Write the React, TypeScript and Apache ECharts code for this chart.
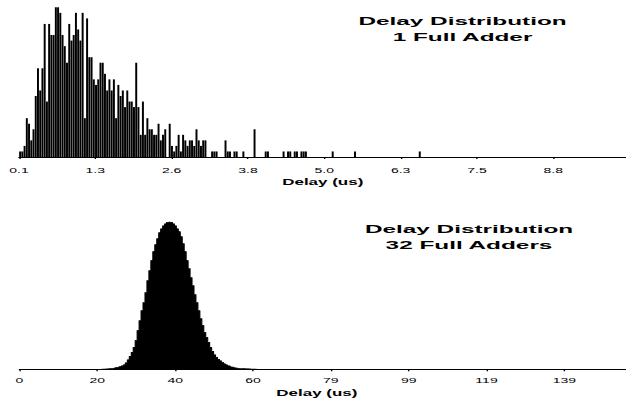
import React, { useEffect, useRef } from "react";
import * as echarts from "echarts";

// The reference figure is horizontally stretched; we draw natively and stretch the SVG.
const STRETCH = 1.75;
const PAGE_W = 626;
const PAGE_H = 400;
const NATIVE_W = PAGE_W / STRETCH;
const FONT = '"Liberation Sans", Arial, Helvetica, sans-serif';

// ---- Top histogram: 1 Full Adder ----
const topBinStart = 0.1;
const topBinWidth = 0.0362;
const topCounts = [
  1, 1, 2, 7, 6, 3, 5, 11, 16, 12,
  16, 24, 10, 24, 22, 22, 27, 27, 26, 22,
  20, 17, 24, 21, 22, 26, 23, 21, 26, 7,
  25, 18, 18, 14, 13, 14, 17, 17, 15, 12,
  14, 12, 14, 7, 13, 11, 12, 9, 12, 10,
  10, 9, 17, 9, 4, 10, 4, 7, 5, 5,
  4, 4, 6, 3, 4, 5, 0, 6, 2, 1,
  2, 4, 1, 4, 3, 2, 3, 3, 2, 5,
  3, 2, 3, 3, 0, 0, 1, 1, 1, 0,
  0, 0, 3, 1, 1, 0, 1, 1, 0, 0,
  1, 0, 0, 0, 0, 5, 0, 0, 0, 0,
  1, 1, 0, 0, 0, 0, 0, 0, 1, 0,
  1, 1, 0, 1, 1, 0, 1, 1, 1, 0,
  0, 0, 0, 0, 0, 0, 0, 0, 0, 0,
  1, 0, 0, 0, 0, 0, 0, 0, 0, 0,
  1, 0, 0, 0, 0, 0, 0, 0, 0, 0,
  0, 0, 0, 0, 0, 0, 0, 0, 0, 0,
  0, 0, 0, 0, 0, 0, 0, 0, 0, 1,
];
const topAxisMin = 0.1;
const topAxisMax = 9.95; // visible end of the (cropped) axis
const topYMax = 27;
const topTickValues = [0.1, 1.3375, 2.575, 3.8125, 5.05, 6.2875, 7.525, 8.7625];
const topTickLabels = ["0.1", "1.3", "2.6", "3.8", "5.0", "6.3", "7.5", "8.8"];
const topTitle = "Delay Distribution\n1 Full Adder";

// ---- Bottom histogram: 32 Full Adders ----
const bottomBinStart = 20;
const bottomBinWidth = 0.5;
const bottomCounts = [
  1, 1, 2, 3, 4, 5, 7, 9, 12, 17,
  22, 27, 35, 45, 65, 95, 130, 170, 220, 290,
  390, 490, 590, 670, 770, 890, 990, 1090, 1180, 1250,
  1310, 1370, 1410, 1440, 1460, 1475, 1480, 1475, 1460, 1440,
  1410, 1380, 1330, 1260, 1180, 1090, 1010, 920, 840, 750,
  670, 590, 510, 440, 370, 320, 270, 220, 180, 145,
  120, 100, 85, 70, 55, 45, 36, 30, 23, 18,
  14, 11, 9, 8, 7, 6, 5, 4, 3, 2,
  2, 1, 1, 1,
];
const bottomAxisMin = 0;
const bottomAxisMax = 154.8; // visible end of the (cropped) axis
const bottomYMax = 1480;
const bottomTickValues = [0, 19.85, 39.7, 59.55, 79.4, 99.25, 119.1, 138.95];
const bottomTickLabels = ["0", "20", "40", "60", "79", "99", "119", "139"];
const bottomTitle = "Delay Distribution\n32 Full Adders";

const xName = "Delay (us)";

function labelFor(values: number[], labels: string[]) {
  return (v: number) => {
    for (let k = 0; k < values.length; k++) {
      if (Math.abs(values[k] - v) < 1e-6) return labels[k];
    }
    return "";
  };
}

function xAxisCfg(
  gridIndex: number,
  min: number,
  max: number,
  ticks: number[],
  labels: string[],
  labelMargin: number,
  nameGap: number,
  namePadding: number[]
) {
  return {
    gridIndex,
    type: "value",
    min,
    max,
    axisLine: { show: true, onZero: false, lineStyle: { color: "#000", width: 1 } },
    axisTick: { show: true, customValues: ticks, length: 2, lineStyle: { color: "#000", width: 0.8 } },
    axisLabel: {
      show: true,
      customValues: ticks,
      formatter: labelFor(ticks, labels),
      fontSize: 8,
      color: "#000",
      fontFamily: FONT,
      margin: labelMargin,
    },
    splitLine: { show: false },
    name: xName,
    nameLocation: "middle",
    nameGap,
    nameTextStyle: {
      fontWeight: "bold",
      fontSize: 9.7,
      color: "#000",
      fontFamily: FONT,
      padding: namePadding,
    },
  };
}

export default function App() {
  const ref = useRef<HTMLDivElement>(null);

  useEffect(() => {
    if (!ref.current) return;
    const chart = echarts.init(ref.current, undefined, { renderer: "svg" });

    const topData = topCounts.map((c, i) => [topBinStart + (i + 0.5) * topBinWidth, c]);
    const bottomData = bottomCounts.map((c, i) => [bottomBinStart + (i + 0.5) * bottomBinWidth, c]);

    chart.setOption({
      animation: false,
      backgroundColor: "#fff",
      grid: [
        { left: 19 / STRETCH, top: 7.3, right: 0, height: 149.7, containLabel: false },
        { left: 19.5 / STRETCH, top: 221.7, right: 0, height: 147.6, containLabel: false },
      ],
      xAxis: [
        xAxisCfg(0, topAxisMin, topAxisMax, topTickValues, topTickLabels, 9.5, 19.5, [0, 0, 0, 0]),
        xAxisCfg(1, bottomAxisMin, bottomAxisMax, bottomTickValues, bottomTickLabels, 7.3, 18.5, [0, 7, 0, 0]),
      ],
      yAxis: [
        { gridIndex: 0, type: "value", min: 0, max: topYMax, show: false, splitLine: { show: false } },
        { gridIndex: 1, type: "value", min: 0, max: bottomYMax, show: false, splitLine: { show: false } },
      ],
      series: [
        {
          type: "bar",
          xAxisIndex: 0,
          yAxisIndex: 0,
          data: topData,
          barWidth: "88%",
          itemStyle: { color: "#000" },
          silent: true,
        },
        {
          type: "line",
          xAxisIndex: 1,
          yAxisIndex: 1,
          data: bottomData,
          step: "middle",
          symbol: "none",
          lineStyle: { color: "#000", width: 0.6 },
          areaStyle: { color: "#000", opacity: 1 },
          silent: true,
          z: 3,
        },
      ],
      graphic: [
        {
          type: "text",
          x: 462.5 / STRETCH,
          y: 13.5,
          scaleX: 1.21,
          style: {
            text: topTitle,
            align: "center",
            verticalAlign: "top",
            fontSize: 11.5,
            fontWeight: "bold",
            fontFamily: FONT,
            lineHeight: 16,
            fill: "#000",
          },
        },
        {
          type: "text",
          x: 469 / STRETCH,
          y: 221,
          scaleX: 1.21,
          style: {
            text: bottomTitle,
            align: "center",
            verticalAlign: "top",
            fontSize: 11.5,
            fontWeight: "bold",
            fontFamily: FONT,
            lineHeight: 16,
            fill: "#000",
          },
        },
      ],
    });

    return () => chart.dispose();
  }, []);

  return (
    <div
      style={{
        position: "absolute",
        left: 0,
        top: 0,
        width: PAGE_W,
        height: PAGE_H,
        overflow: "hidden",
        background: "#fff",
      }}
    >
      <div
        ref={ref}
        style={{
          width: NATIVE_W,
          height: PAGE_H,
          transform: `scaleX(${STRETCH})`,
          transformOrigin: "0 0",
        }}
      />
    </div>
  );
}
